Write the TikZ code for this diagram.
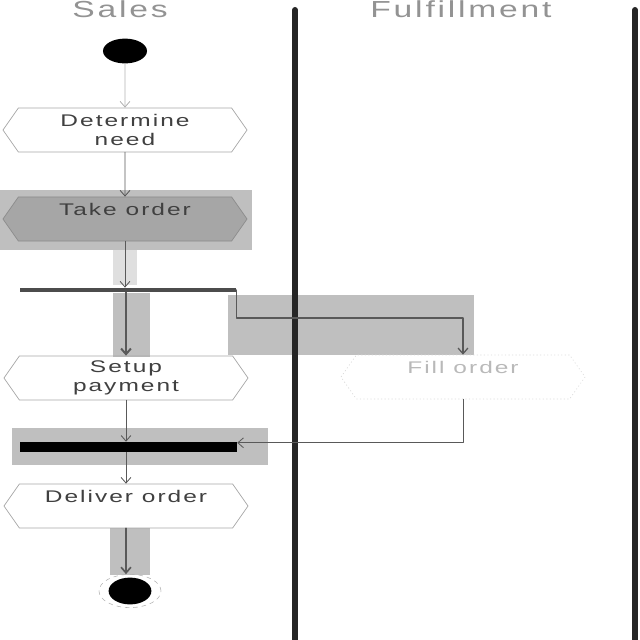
\documentclass[tikz,border=0pt]{standalone}
\usepackage{fontspec}
\newfontfamily\umlfont[FakeStretch=1.45,LetterSpace=12]{Liberation Sans}
\usetikzlibrary{positioning}
\usetikzlibrary{shapes.symbols}
\usetikzlibrary{shapes.geometric}
\usetikzlibrary{arrows.meta}

\begin{document}
\begin{tikzpicture}[
        x=0.025cm, y=-0.025cm,
        line cap=round,
        line join=round,
        lanetitle/.style={font=\umlfont\fontsize{16.5}{18}\selectfont, text=gray!85, anchor=base, inner sep=0pt},
        lane/.style={line width=4.3pt, draw=black!85},
        hl/.style={fill=gray!50},
        act/.style={signal, signal to=west and east, signal pointer angle=110,
            draw=gray!70, line width=0.5pt, minimum width=6.1cm, minimum height=1.1cm,
            inner sep=0pt, font=\umlfont\fontsize{12}{14}\selectfont, text=black!75, align=center},
        oneline/.style={text height=9pt, text depth=14pt},
        bar/.style={rectangle, inner sep=0pt, minimum width=5.42cm},
        flow/.style={draw=black!65, line width=0.6pt, -{Straight Barb[length=4pt,width=7pt]}}
    ]
        \useasboundingbox (0,0) rectangle (640,640);

        % sfondi grigi
        \fill[hl] (0,190) rectangle (252,250);
        \fill[hl, fill=gray!25] (113,250) rectangle (137,285);
        \fill[hl] (113,293) rectangle (150,357);
        \fill[hl] (228,295) rectangle (474,355);
        \fill[hl] (12,428) rectangle (268,465);
        \fill[hl] (110,528) rectangle (150,575);

        % corsie
        \node[lanetitle] (sales) at (120,17) {Sales};
        \node[lanetitle] (fulfil) at (461,17) {Fulfillment};
        \draw[lane] (295,10) -- (295,640);
        \draw[lane] (635,10) -- (635,640);

        % attivita
        \node[ellipse, fill=black, minimum width=1.1cm, minimum height=0.62cm, inner sep=0pt] (start) at (125,51) {};
        \node[act] (need) at (125,130) {Determine\\need};
        \node[act, oneline, fill=gray!70, draw=gray!90] (take) at (125,219) {Take order};
        \node[bar, fill=black!70, minimum height=3pt] (fork) at (128,290) {};
        \node[act] (setup) at (126,378) {Setup\\payment};
        \node[act, oneline, draw=gray!30, dotted, text=gray!55] (fill) at (463,377) {Fill order};
        \node[bar, fill=black, minimum height=0.25cm] (join) at (128.5,447) {};
        \node[act, oneline] (deliver) at (126,506) {Deliver order};
        \node[ellipse, draw=gray!60, dashed, minimum width=1.55cm, minimum height=0.83cm, inner sep=0pt] (stopring) at (130,591) {};
        \node[ellipse, fill=black, minimum width=1.07cm, minimum height=0.67cm, inner sep=0pt] (stop) at (130,591) {};

        % frecce
        \draw[flow, draw=gray!60] (start) -- (need);
        \draw[flow] (need) -- (take);
        \draw[flow] (take.south) -- (take.south |- fork.north);
        \draw[flow, line width=1.4pt] (fork.south -| setup) -- (setup.north);
        \draw[flow, line width=0.9pt] (fork.east) -- ++(0,28) -| (fill.north);
        \draw[flow] (setup.south) -- (setup.south |- join.north);
        \draw[flow] (fill.south) |- ([yshift=3pt]join.east);
        \draw[flow] (join.south -| deliver) -- (deliver.north);
        \draw[flow, line width=1.2pt] (deliver.south) -- (stopring.north -| deliver);
    \end{tikzpicture}
\end{document}
